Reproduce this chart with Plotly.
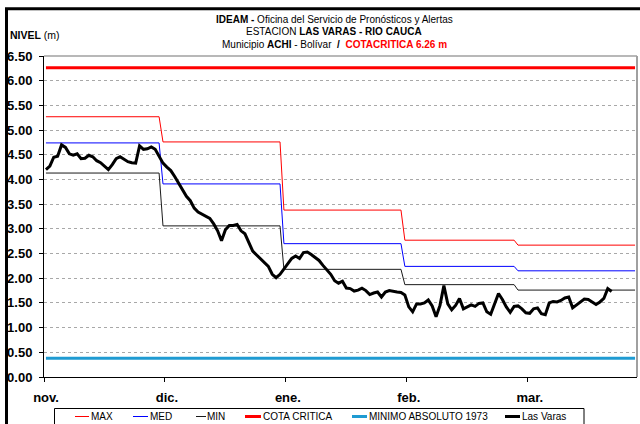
import pandas as pd
import plotly.graph_objects as go

# One category per day, Nov 2023 - Mar 2024
fechas = pd.date_range("2023-11-01", "2024-03-31", freq="D")

meses = ["nov.", "dic.", "ene.", "feb.", "mar."]
mes_num = [11, 12, 1, 2, 3]

# Monthly reference levels (m)
nivel_max = [5.27, 4.76, 3.38, 2.77, 2.67]
nivel_med = [4.74, 3.91, 2.70, 2.24, 2.15]
nivel_min = [4.13, 3.06, 2.18, 1.87, 1.76]

cota_critica = 6.26
minimo_absoluto_1973 = 0.38

# Daily level at Las Varas (m), from 2023-11-01
las_varas = [
    4.20, 4.27, 4.45, 4.47, 4.70, 4.65, 4.52, 4.49, 4.52, 4.42,
    4.43, 4.49, 4.46, 4.38, 4.34, 4.27, 4.20, 4.30, 4.42, 4.46,
    4.41, 4.36, 4.34, 4.33, 4.68, 4.61, 4.62, 4.66, 4.61, 4.46,
    4.33, 4.25, 4.18, 4.06, 3.93, 3.78, 3.66, 3.57, 3.42, 3.34,
    3.30, 3.26, 3.21, 3.10, 2.96, 2.76, 2.98, 3.07, 3.07, 3.09,
    2.96, 2.90, 2.72, 2.55, 2.47, 2.40, 2.32, 2.24, 2.08, 2.01,
    2.08, 2.19, 2.31, 2.40, 2.45, 2.40, 2.52, 2.53, 2.48, 2.42,
    2.36, 2.26, 2.18, 2.08, 1.95, 1.90, 1.94, 1.80, 1.79, 1.74,
    1.76, 1.80, 1.75, 1.67, 1.70, 1.72, 1.62, 1.72, 1.75, 1.73,
    1.72, 1.71, 1.66, 1.42, 1.32, 1.48, 1.48, 1.50, 1.56, 1.44,
    1.22, 1.45, 1.85, 1.48, 1.36, 1.45, 1.59, 1.38, 1.42, 1.46,
    1.43, 1.49, 1.50, 1.32, 1.27, 1.48, 1.69, 1.57, 1.42, 1.31,
    1.43, 1.44, 1.38, 1.30, 1.29, 1.38, 1.40, 1.28, 1.26, 1.50,
    1.53, 1.52, 1.55, 1.60, 1.62, 1.40, 1.46, 1.53, 1.58, 1.57,
    1.52, 1.47, 1.52, 1.59, 1.79, 1.73,
]

FONT = "Liberation Sans, Arial, sans-serif"
SMALL = 10


def diario(mensual):
    return [mensual[mes_num.index(f.month)] for f in fechas]


series = [
    ("MAX", diario(nivel_max), "#ff0000", 1),
    ("MED", diario(nivel_med), "#0000ff", 1),
    ("MIN", diario(nivel_min), "#1a1a1a", 1),
    ("COTA CRITICA", [cota_critica] * len(fechas), "#ff0000", 3),
    ("MINIMO ABSOLUTO 1973", [minimo_absoluto_1973] * len(fechas), "#1f9bd2", 3),
    ("Las Varas", las_varas, "#000000", 3),
]

fig = go.Figure()
for nombre, valores, color, ancho in series:
    fig.add_trace(go.Scatter(
        x=fechas[:len(valores)], y=valores, mode="lines", name=nombre,
        line=dict(color=color, width=ancho), showlegend=False,
        hoverinfo="skip",
    ))

# Category boundaries every 31 days carry the month labels
media_dia = pd.Timedelta(hours=12)
tick_fechas = [fechas[k] - media_dia for k in range(0, len(fechas), 31)]

W, H = 640, 424
L, R, T, B = 44, 3, 56, 47
pw, ph = W - L - R, H - T - B


def px(xp):
    return (xp - L) / pw


def py(yp):
    return (H - B - yp) / ph


fig.update_layout(
    width=W, height=H,
    margin=dict(l=L, r=R, t=T, b=B, pad=0),
    paper_bgcolor="white", plot_bgcolor="white",
    font=dict(family=FONT, color="black"),
    showlegend=False,
    xaxis=dict(
        type="date",
        range=[fechas[0] - media_dia, fechas[-1] + media_dia],
        tickmode="array", tickvals=tick_fechas, ticktext=meses,
        showgrid=False, zeroline=False,
        showline=True, linecolor="black", linewidth=1,
        ticks="outside", ticklen=4, tickcolor="black", tickwidth=1,
        tickfont=dict(family=FONT, size=13, weight="bold", color="black"),
        ticklabelstandoff=4, ticklabelshift=2,
    ),
    yaxis=dict(
        range=[0, 6.5], tick0=0, dtick=0.5, tickformat=".2f",
        showgrid=True, gridcolor="#a8a8a8", gridwidth=1, griddash="dot",
        zeroline=False,
        showline=True, linecolor="black", linewidth=1,
        ticks="outside", ticklen=4, tickcolor="black", tickwidth=1,
        tickfont=dict(family=FONT, size=13, weight="bold", color="black"),
        ticklabelstandoff=4,
    ),
)

shapes = [
    # plot-area frame (top and right)
    dict(type="line", xref="paper", yref="paper", x0=0, x1=1, y0=1, y1=1,
         line=dict(color="#a0a0a0", width=1.5), layer="below"),
    dict(type="line", xref="paper", yref="paper", x0=1, x1=1, y0=0, y1=1,
         line=dict(color="#a0a0a0", width=2), layer="below"),
    # outer chart frame
    dict(type="rect", xref="paper", yref="paper",
         x0=px(6.5), x1=px(700), y0=py(470), y1=py(8.8),
         line=dict(color="black", width=3), layer="below"),
    # legend box
    dict(type="rect", xref="paper", yref="paper",
         x0=px(54.5), x1=px(584), y0=py(440), y1=py(408.5),
         line=dict(color="black", width=1), fillcolor="white", layer="above"),
]

annotations = [
    dict(text="<b>IDEAM - </b>Oficina del Servicio de Pronósticos y Alertas",
         x=px(334), y=py(20), xanchor="center", yanchor="middle"),
    dict(text="ESTACION <b>LAS VARAS - RIO CAUCA</b>",
         x=px(334), y=py(32), xanchor="center", yanchor="middle"),
    dict(text=("Municipio <b>ACHI</b> - Bolívar  <b>/</b>  "
               f"<span style='color:#ff0000'><b>COTACRITICA {cota_critica:.2f} m</b></span>"),
         x=px(334), y=py(44.5), xanchor="center", yanchor="middle"),
    dict(text="<b>NIVEL</b> (m)", x=px(8), y=py(35),
         xanchor="left", yanchor="middle", font=dict(family=FONT, size=10.5)),
]
for a in annotations:
    a.update(xref="paper", yref="paper", showarrow=False)
    a.setdefault("font", dict(family=FONT, size=SMALL, color="black"))

# legend entries: sample start, sample end, text start
legend_pos = [(75, 89, 89), (133, 148, 148), (196, 206, 205),
              (245, 261, 261), (352, 367, 367), (505, 520, 520)]
ly = py(416.5)
for (nombre, _, color, ancho), (s0, s1, t0) in zip(series, legend_pos):
    shapes.append(dict(type="line", xref="paper", yref="paper",
                       x0=px(s0), x1=px(s1), y0=ly, y1=ly,
                       line=dict(color=color, width=ancho), layer="above"))
    annotations.append(dict(text=nombre, x=px(t0), y=ly, xref="paper", yref="paper",
                            xanchor="left", yanchor="middle", showarrow=False,
                            font=dict(family=FONT, size=SMALL, color="black")))

fig.update_layout(shapes=shapes, annotations=annotations)
fig.write_html("out.html")
